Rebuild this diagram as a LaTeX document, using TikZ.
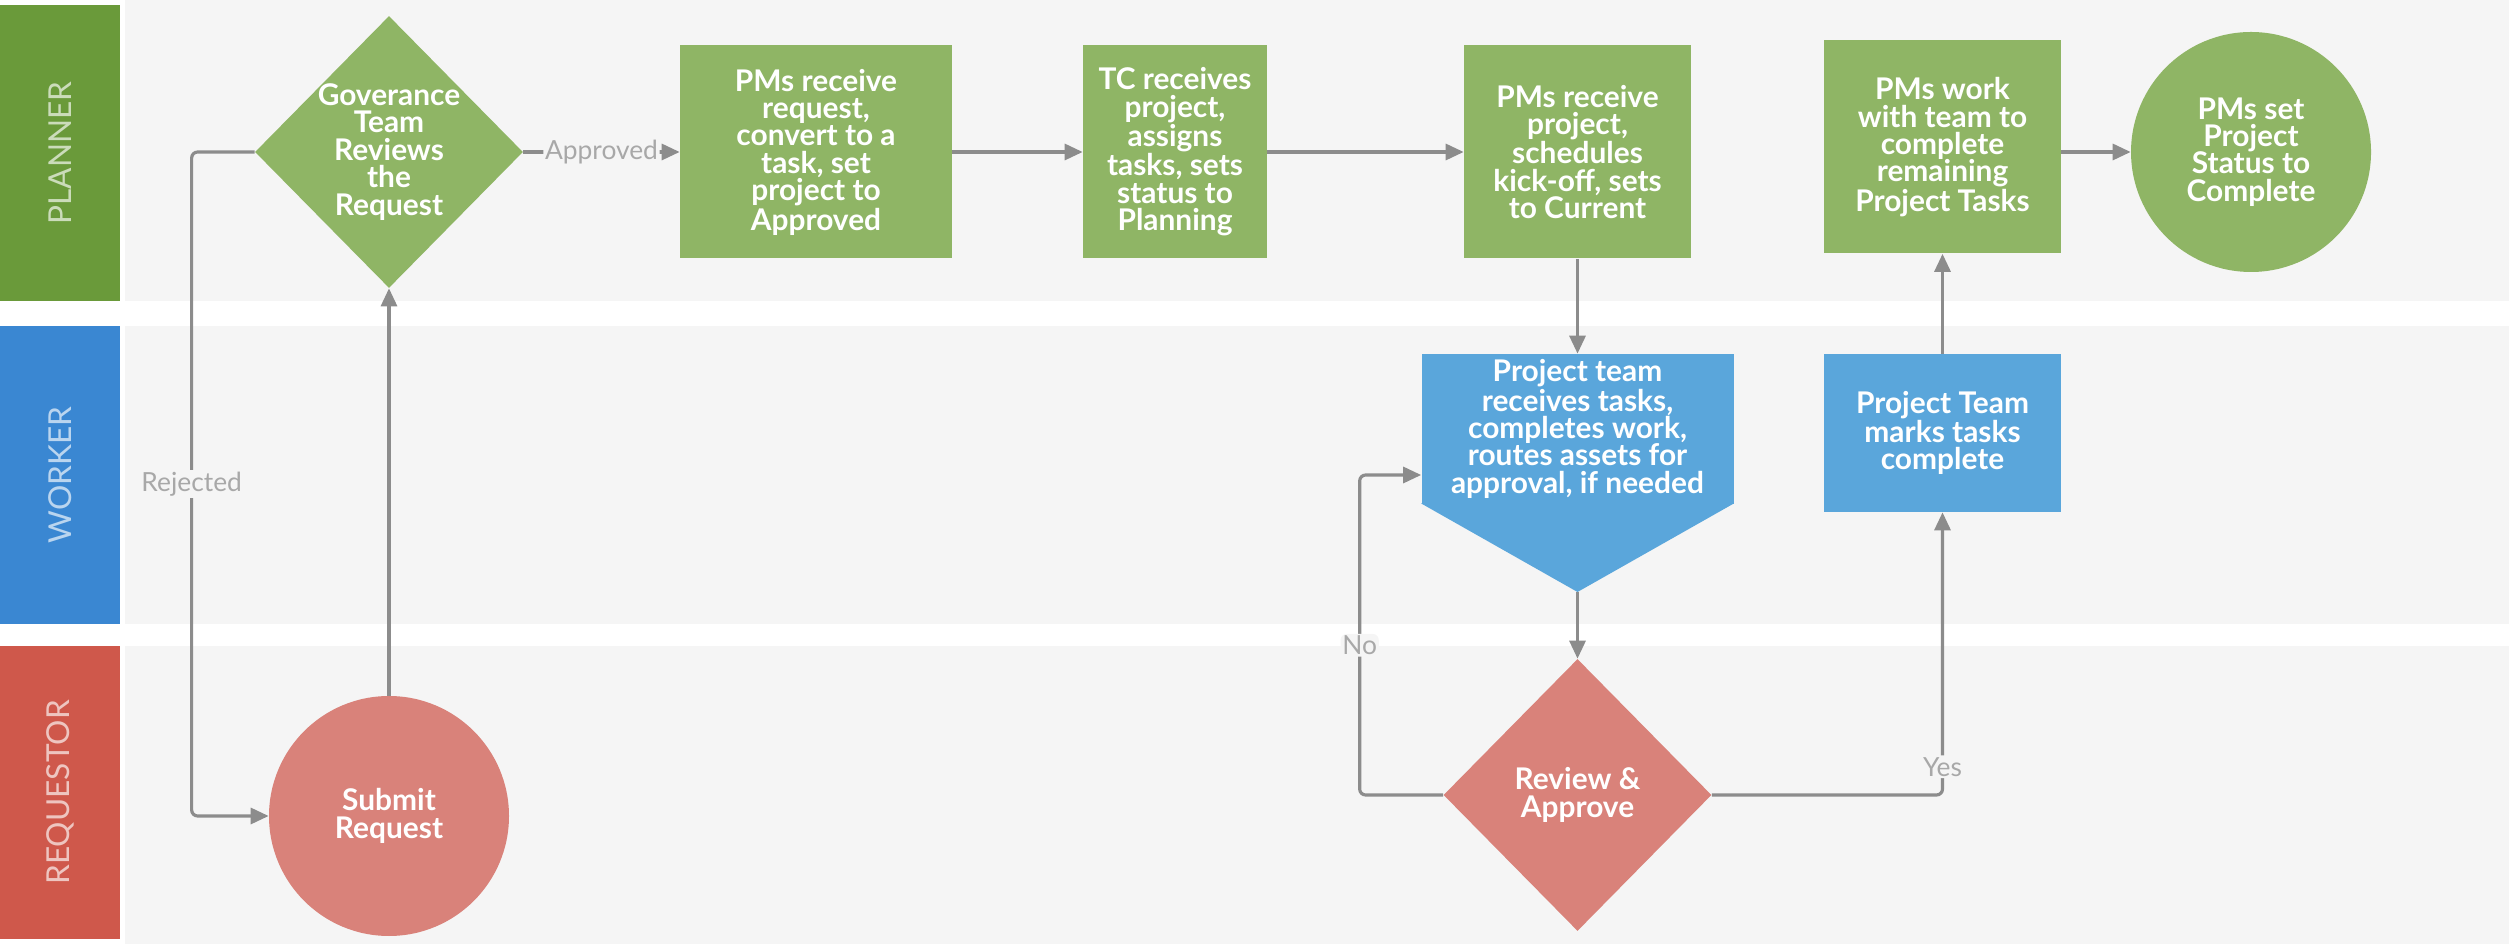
\documentclass[tikz,border=0pt]{standalone}
\usepackage{fontspec}
\setmainfont{Lato}
\usepackage{tikz}
\usetikzlibrary{shapes.geometric}
\usetikzlibrary{arrows.meta}
\usetikzlibrary{positioning}
\definecolor{plannerdark}{HTML}{6A9A3A}
\definecolor{plannerfill}{HTML}{8FB565}
\definecolor{workerdark}{HTML}{3A87D2}
\definecolor{workerfill}{HTML}{5AA6DB}
\definecolor{requestordark}{HTML}{CF584B}
\definecolor{requestorfill}{HTML}{D9827A}
\definecolor{lanegray}{HTML}{F5F5F5}
\definecolor{flowgray}{HTML}{8C8C8C}
\definecolor{labelgray}{HTML}{A8A8A8}
\tikzstyle{lane_band}=[fill=lanegray, draw=none]
\tikzstyle{lane_tag}=[rectangle, rotate=90, inner sep=0, minimum height=2.4cm, font=\fontsize{18}{20}\selectfont]
\tikzstyle{task_box}=[rectangle, inner sep=0, text=white, align=center, font=\bfseries\fontsize{17}{15.6}\selectfont]
\tikzstyle{task_decision}=[diamond, aspect=1, inner sep=-1.5mm, text=white, align=center, minimum width=5.36cm, minimum height=5.44cm, font=\bfseries\fontsize{17}{15.6}\selectfont]
\tikzstyle{task_end}=[circle, inner sep=0, text=white, align=center, minimum size=4.8cm, font=\bfseries\fontsize{17}{15.6}\selectfont]
\tikzstyle{flow}=[draw=flowgray, line width=1.8pt, rounded corners=1.2mm, -{Triangle[length=3.6mm, width=3.2mm]}]
\tikzstyle{flow_label}=[fill=lanegray, text=labelgray, inner sep=1pt, font=\fontsize{15}{17}\selectfont]

\begin{document}
\begin{tikzpicture}
          \useasboundingbox (0,0) rectangle (50.18,18.88);
          \fill[lane_band] (2.5,12.86) rectangle (50.18,18.88);
          \fill[lane_band] (2.5,6.40) rectangle (50.18,12.36);
          \fill[lane_band] (2.5,0) rectangle (50.18,5.96);
          \node[lane_tag, fill=plannerdark, text=plannerdark!35!white, minimum width=5.92cm] (tag_planner) at (1.2,15.82) {PLANNER};
          \node[lane_tag, fill=workerdark, text=workerdark!35!white, minimum width=5.96cm] (tag_worker) at (1.2,9.38) {WORKER};
          \node[lane_tag, fill=requestordark, text=requestordark!35!white, minimum width=5.86cm] (tag_requestor) at (1.2,3.03) {REQUESTOR};
          \node[task_decision, fill=plannerfill] (gov) at (7.78,15.84) {Goverance\\Team\\Reviews\\the\\Request};
          \node[task_box, fill=plannerfill, minimum width=5.44cm, minimum height=4.26cm] (req) at (16.32,15.84) {PMs receive\\request,\\convert to a\\task, set\\project to\\Approved};
          \node[task_box, fill=plannerfill, minimum width=3.68cm, minimum height=4.26cm] (tc) at (23.5,15.84) {TC receives\\project,\\assigns\\tasks, sets\\status to\\Planning};
          \node[task_box, fill=plannerfill, minimum width=4.54cm, minimum height=4.26cm] (kickoff) at (31.55,15.84) {PMs receive\\project,\\schedules\\kick-off, sets\\to Current};
          \node[task_box, fill=plannerfill, minimum width=4.74cm, minimum height=4.26cm] (work) at (38.85,15.94) {PMs work\\with team to\\complete\\remaining\\Project Tasks};
          \node[task_end, fill=plannerfill] (done) at (45.02,15.84) {PMs set\\Project\\Status to\\Complete};
          \coordinate (route_tip) at (31.55,7.04);
          \node[task_box, fill=workerfill, minimum width=6.24cm, minimum height=3.0cm] (route) at (31.55,10.30) {Project team\\receives tasks,\\completes work,\\routes assets for\\approval, if needed};
          \fill[workerfill] ([yshift=.5pt]route.south west) -- ([yshift=.5pt]route.south east) -- (route_tip) -- cycle;
          \node[task_box, fill=workerfill, minimum width=4.74cm, minimum height=3.16cm] (marks) at (38.85,10.22) {Project Team\\marks tasks\\complete};
          \node[task_end, fill=requestorfill] (submit) at (7.78,2.56) {Submit\\Request};
          \node[task_decision, fill=requestorfill] (review) at (31.55,2.98) {Review \&\\Approve};
          \draw[flow](submit.north) -- (gov.south);
          \draw[flow](gov.west) -- ++(-1.26,0) |- (submit.west) node[flow_label, pos=0.25]{Rejected};
          \draw[flow](gov.east) -- (req.west) node[flow_label, midway]{Approved};
          \draw[flow](req) -- (tc);
          \draw[flow](tc) -- (kickoff);
          \draw[flow](kickoff) -- (route);
          \draw[flow](route_tip) -- (review.north);
          \draw[flow](review.west) -- ++(-1.67,0) |- ([yshift=-9.2mm]route.west) node[flow_label, pos=0.234]{No};
          \draw[flow](review.east) -| (marks.south) node[flow_label, pos=0.55]{Yes};
          \draw[flow](marks) -- (work);
          \draw[flow](work.east |- done.west) -- (done.west);
        \end{tikzpicture}
\end{document}
